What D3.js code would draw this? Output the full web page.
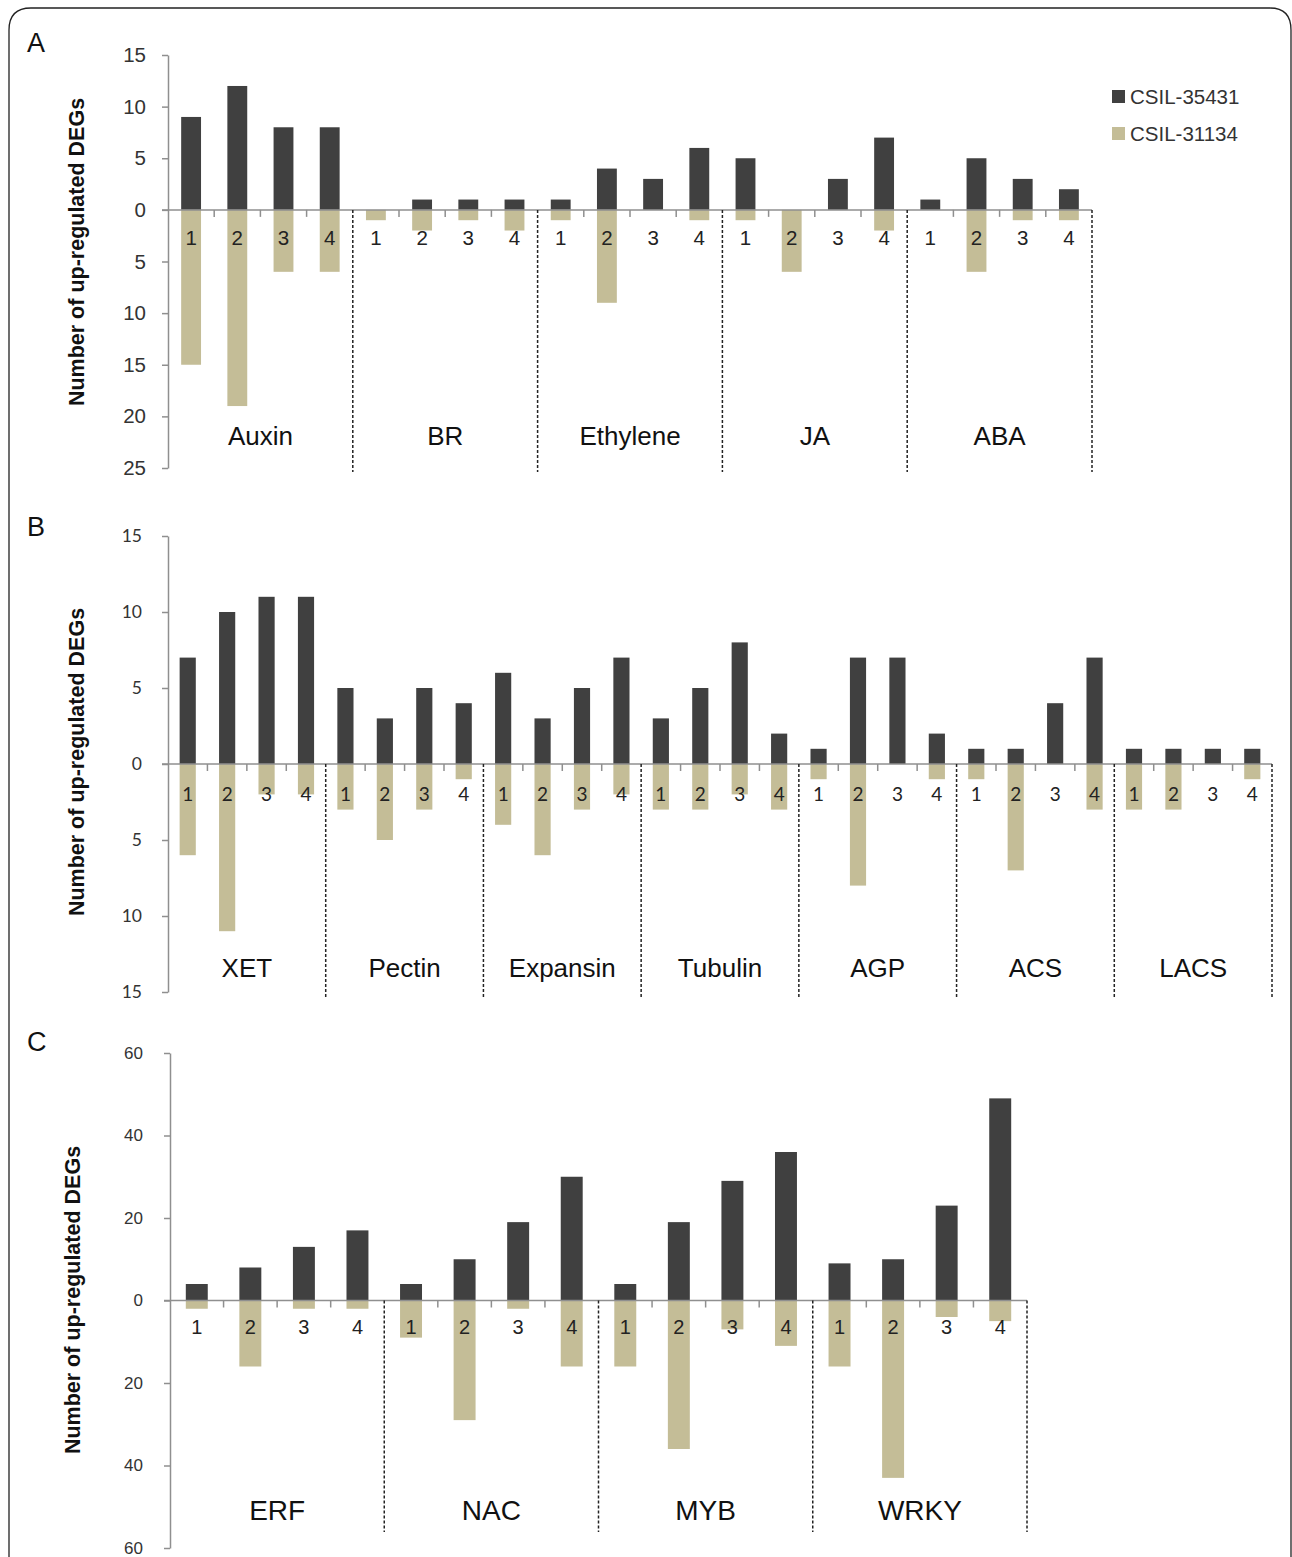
<!DOCTYPE html>
<html>
<head>
<meta charset="utf-8">
<script src="https://cdn.jsdelivr.net/npm/d3@7.9.0/dist/d3.min.js"></script>
<style>
  body { margin: 0; background: #fff; }
  svg { display: block; font-family: "Liberation Sans", Arial, sans-serif; }
</style>
</head>
<body>
<svg id="fig" width="1292" height="1557"></svg>
<script>
const seriesNames = ['CSIL-35431', 'CSIL-31134'];
const subLabels = ['1', '2', '3', '4'];

// panel A - hormones
const groupsA = ['Auxin', 'BR', 'Ethylene', 'JA', 'ABA'];
const upA = [9, 12, 8, 8, 0, 1, 1, 1, 1, 4, 3, 6, 5, 0, 3, 7, 1, 5, 3, 2];
const downA = [15, 19, 6, 6, 1, 2, 1, 2, 1, 9, 0, 1, 1, 6, 0, 2, 0, 6, 1, 1];
const ticksA = [15, 10, 5, 0, -5, -10, -15, -20, -25];

// panel B - cell wall
const groupsB = ['XET', 'Pectin', 'Expansin', 'Tubulin', 'AGP', 'ACS', 'LACS'];
const upB = [7, 10, 11, 11, 5, 3, 5, 4, 6, 3, 5, 7, 3, 5, 8, 2, 1, 7, 7, 2, 1, 1, 4, 7, 1, 1, 1, 1];
const downB = [6, 11, 2, 2, 3, 5, 3, 1, 4, 6, 3, 2, 3, 3, 2, 3, 1, 8, 0, 1, 1, 7, 0, 3, 3, 3, 0, 1];
const ticksB = [15, 10, 5, 0, -5, -10, -15];

// panel C - transcription factors
const groupsC = ['ERF', 'NAC', 'MYB', 'WRKY'];
const upC = [4, 8, 13, 17, 4, 10, 19, 30, 4, 19, 29, 36, 9, 10, 23, 49];
const downC = [2, 16, 2, 2, 9, 29, 2, 16, 16, 36, 7, 11, 16, 43, 4, 5];
const ticksC = [60, 40, 20, 0, -20, -40, -60];

const colors = ['#404040', '#c4bd97'];
const axisGray = '#8f8f8f';

const svg = d3.select('#fig');
svg.append('rect').attr('width', 1292).attr('height', 1557).attr('fill', '#fff');

// outer frame (rounded corners, open at the bottom)
svg.append('path')
  .attr('d', 'M9,1560 V30 Q9,8 31,8 H1270 Q1291,8 1291,30 V1560')
  .attr('fill', 'none').attr('stroke', '#222').attr('stroke-width', 1.3);

function drawPanel(p) {
  const g = svg.append('g');
  const cats = d3.range(p.groups.length * 4);
  const x = d3.scaleBand().domain(cats).range([p.x0, p.x1])
    .paddingInner(p.pad).paddingOuter(p.pad / 2);
  const y = d3.scaleLinear().domain([p.ticks[0], p.ticks[p.ticks.length - 1]])
    .range([p.yTop, p.yBot]);
  const step = x.step();
  const left = (i) => x(i) - (step - x.bandwidth()) / 2;

  // bars
  g.selectAll('rect.up').data(p.up).join('rect')
    .attr('x', (d, i) => x(i)).attr('width', x.bandwidth())
    .attr('y', (d) => y(d)).attr('height', (d) => y(0) - y(d))
    .attr('fill', colors[0]);
  g.selectAll('rect.down').data(p.down).join('rect')
    .attr('x', (d, i) => x(i)).attr('width', x.bandwidth())
    .attr('y', y(0)).attr('height', (d) => y(-d) - y(0))
    .attr('fill', colors[1]);

  // y axis
  const ya = g.append('g').attr('transform', `translate(${p.x0},0)`)
    .call(d3.axisLeft(y).tickValues(p.ticks).tickFormat((d) => Math.abs(d))
      .tickSize(6).tickSizeOuter(0).tickPadding(p.tickPad));
  ya.select('.domain').attr('stroke', axisGray).attr('stroke-width', 1.5);
  ya.selectAll('.tick line').attr('stroke', axisGray).attr('stroke-width', 1.5);
  ya.selectAll('.tick text').attr('fill', '#333')
    .style('font-family', p.tickFont).style('font-size', p.tickSize + 'px');

  // zero line
  g.append('line').attr('x1', p.x0 - 6).attr('x2', p.x1)
    .attr('y1', y(0)).attr('y2', y(0))
    .attr('stroke', axisGray).attr('stroke-width', 1.5);

  // small ticks between bars inside each group
  g.selectAll('line.xt').data(cats.filter((i) => i % 4 !== 0)).join('line')
    .attr('x1', (i) => left(i)).attr('x2', (i) => left(i))
    .attr('y1', y(0)).attr('y2', y(0) + 7)
    .attr('stroke', axisGray).attr('stroke-width', 1.5);

  // dotted group dividers
  const divs = p.groups.map((d, gi) => (gi + 1) * 4);
  g.selectAll('line.div').data(divs).join('line')
    .attr('x1', (i) => left(i - 1) + step).attr('x2', (i) => left(i - 1) + step)
    .attr('y1', y(0)).attr('y2', p.divBot)
    .attr('stroke', '#222').attr('stroke-width', 1.5)
    .attr('stroke-dasharray', '3,2');

  // sample numbers
  g.selectAll('text.num').data(cats).join('text')
    .attr('x', (i) => x(i) + x.bandwidth() / 2).attr('y', y(0) + p.numDy)
    .attr('text-anchor', 'middle')
    .style('font-family', p.numFont).style('font-size', p.numSize + 'px')
    .attr('fill', '#222')
    .text((i) => subLabels[i % 4]);

  // group names
  g.selectAll('text.grp').data(p.groups).join('text')
    .attr('x', (d, gi) => (left(gi * 4) + left(gi * 4 + 3) + step) / 2)
    .attr('y', p.grpY)
    .attr('text-anchor', 'middle')
    .style('font-size', p.grpSize + 'px').attr('fill', '#111')
    .text((d) => d);

  // y title
  g.append('text')
    .attr('transform', `translate(${p.titleX},${p.titleY}) rotate(-90)`)
    .attr('text-anchor', 'middle')
    .style('font-size', '21.5px').style('font-weight', 'bold').attr('fill', '#111')
    .text('Number of up-regulated DEGs');

  // panel letter
  g.append('text').attr('x', 27).attr('y', p.letterY)
    .style('font-size', '27px').attr('fill', '#111').text(p.letter);
}

drawPanel({
  letter: 'A', letterY: 52, groups: groupsA, up: upA, down: downA, ticks: ticksA,
  x0: 168, x1: 1092, yTop: 55, yBot: 468, pad: 0.57, divBot: 472,
  tickFont: '"Liberation Sans", Arial', tickSize: 20.5, tickPad: 16,
  numFont: '"Liberation Sans", Arial', numSize: 20.5, numDy: 35,
  grpY: 445, grpSize: 26, titleX: 84, titleY: 252
});

drawPanel({
  letter: 'B', letterY: 536, groups: groupsB, up: upB, down: downB, ticks: ticksB,
  x0: 168, x1: 1272, yTop: 536, yBot: 992, pad: 0.59, divBot: 997,
  tickFont: 'Lato, "Open Sans"', tickSize: 17.5, tickPad: 20,
  numFont: 'Lato, "Open Sans"', numSize: 19, numDy: 37,
  grpY: 977, grpSize: 26, titleX: 84, titleY: 762
});

drawPanel({
  letter: 'C', letterY: 1051, groups: groupsC, up: upC, down: downC, ticks: ticksC,
  x0: 170, x1: 1027, yTop: 1053, yBot: 1548, pad: 0.59, divBot: 1532,
  tickFont: '"Liberation Sans", Arial', tickSize: 17, tickPad: 21,
  numFont: '"Liberation Sans", Arial', numSize: 20, numDy: 33,
  grpY: 1520, grpSize: 28, titleX: 80, titleY: 1300
});

// legend
const legend = svg.append('g').attr('transform', 'translate(1112,90)');
legend.selectAll('rect').data(seriesNames).join('rect')
  .attr('x', 0).attr('y', (d, i) => i * 37)
  .attr('width', 13).attr('height', 13)
  .attr('fill', (d, i) => colors[i]);
legend.selectAll('text').data(seriesNames).join('text')
  .attr('x', 18).attr('y', (d, i) => i * 37 + 14)
  .style('font-size', '20.5px').attr('fill', '#333')
  .text((d) => d);
</script>
</body>
</html>
